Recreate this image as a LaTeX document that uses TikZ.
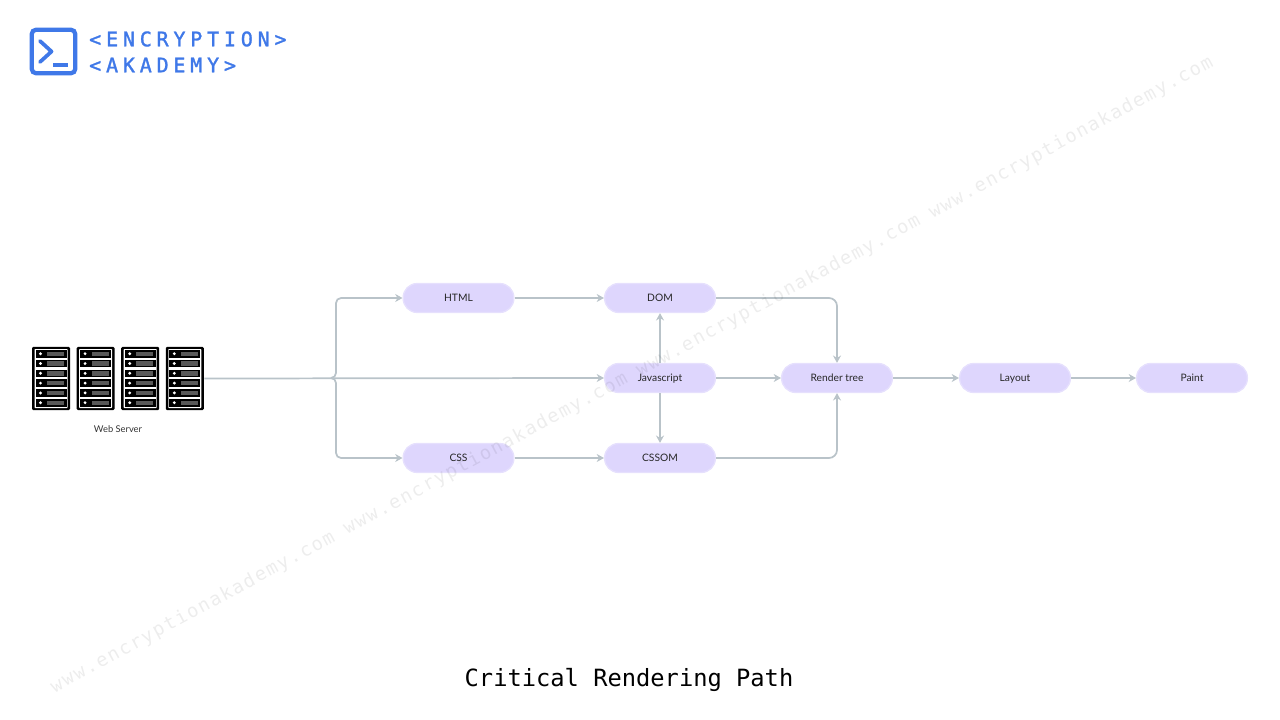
\documentclass[tikz,border=0pt]{standalone}
\usepackage{fontspec}
\setmainfont{Lato}
\newfontfamily\logofont[LetterSpace=24,FakeBold=1.5]{DejaVu Sans Mono}
\newfontfamily\titlefont{DejaVu Sans Mono}
\newfontfamily\markfont[LetterSpace=8.7]{DejaVu Sans Mono}
\definecolor{logoblue}{HTML}{3F78E8}
\definecolor{stepfill}{HTML}{DED6FD}
\definecolor{stepedge}{HTML}{E6E0FD}
\definecolor{linkgray}{HTML}{B9C3C9}
\usetikzlibrary{arrows.meta}
\tikzset{
  stepbox/.style={draw=stepedge, line width=1pt, fill=stepfill, rounded corners=10.5pt, minimum width=83pt, minimum height=21.7pt, inner sep=0pt, text height=7.2pt, text depth=1.5pt, font=\fontsize{7.7pt}{9pt}\selectfont, text=black!85},
  link/.style={draw=linkgray, line width=1.3pt, -{Stealth[length=5.5pt,width=6pt]}},
  rack/.style={fill=black, rounded corners=1pt, minimum width=28.5pt, minimum height=47.5pt, inner sep=0pt},
}
\begin{document}
\begin{tikzpicture}[x=0.75pt, y=-0.75pt]
  \useasboundingbox (0,0) rectangle (1280,720);
  % logo
  \node (logo) [draw=logoblue, line width=3.2pt, rounded corners=3pt, minimum size=32.5pt, inner sep=0pt] at (53.5,51.5) {};
  \draw[logoblue, line width=2.8pt, line cap=round, line join=round] (40,41) -- (51.5,51.5) -- (40,62);
  \draw[logoblue, line width=2.8pt] (53,65) -- (68,65);
  \node (encryption) [anchor=west, text=logoblue, font=\fontsize{15pt}{17pt}\logofont, inner sep=0pt] at (89,39) {<ENCRYPTION>};
  \node (akademy) [anchor=west, text=logoblue, font=\fontsize{15pt}{17pt}\logofont, inner sep=0pt] at (89,65) {<AKADEMY>};
  % servers
  \foreach \i in {0,1,2,3} {
    \node (rack\i) [rack] at (51+44.6*\i,378.5) {};
    \fill[white, rounded corners=0.5pt] (34.5+44.6*\i,349) rectangle (67.5+44.6*\i,408);
    \foreach \j in {0,...,5} {
      \fill[black] (35.5+44.6*\i,350+9.8*\j) rectangle (66.5+44.6*\i,357.5+9.8*\j);
      \fill[white] (40.5+44.6*\i,353.7+9.8*\j) circle (1.6);
      \fill[black!65] (47+44.6*\i,351.5+9.8*\j) rectangle (64+44.6*\i,356+9.8*\j);
    }
  }
  \node (server) [minimum width=129pt, minimum height=47pt, inner sep=0pt] at (118,378.5) {};
  \node (serverlabel) [font=\fontsize{7pt}{8pt}\selectfont, text=black!80, inner sep=0pt] at (118,429) {Web Server};
  % steps
  \node (html) [stepbox] at (458.5,298) {HTML};
  \node (dom) [stepbox] at (660,298) {DOM};
  \node (js) [stepbox] at (660,378) {Javascript};
  \node (css) [stepbox] at (458.5,458) {CSS};
  \node (cssom) [stepbox] at (660,458) {CSSOM};
  \node (render) [stepbox] at (837,378) {Render tree};
  \node (layout) [stepbox] at (1015,378) {Layout};
  \node (paint) [stepbox] at (1192,378) {Paint};
  % links
  \coordinate (fork) at (331,378);
  \draw[link] (server.east) -- (js.west);
  \draw[link] (fork) to[out=0, in=-90, looseness=1] (336,373) -- (336,303) to[out=90, in=180, looseness=1] (341,298) -- (html.west);
  \draw[link] (fork) to[out=0, in=90, looseness=1] (336,383) -- (336,453) to[out=-90, in=180, looseness=1] (341,458) -- (css.west);
  \draw[link] (html) -- (dom);
  \draw[link] (css) -- (cssom);
  \draw[link] (js) -- (dom);
  \draw[link] (js) -- (cssom);
  \draw[link] (js) -- (render);
  \draw[link, rounded corners=6pt] (dom.east) -| (render.north);
  \draw[link, rounded corners=6pt] (cssom.east) -| (render.south);
  \draw[link] (render) -- (layout);
  \draw[link] (layout) -- (paint);
  % title
  \node (title) [font=\fontsize{17.8pt}{20pt}\titlefont, text=black, inner sep=0pt] at (629,679.5) {Critical Rendering Path};
  % watermark
  \node (mark) [rotate=28.4, text=black, text opacity=0.07, font=\fontsize{14pt}{16pt}\markfont, inner sep=0pt] at (632,375) {www.encryptionakademy.com www.encryptionakademy.com www.encryptionakademy.com www.encryptionakademy.com};
\end{tikzpicture}
\end{document}
